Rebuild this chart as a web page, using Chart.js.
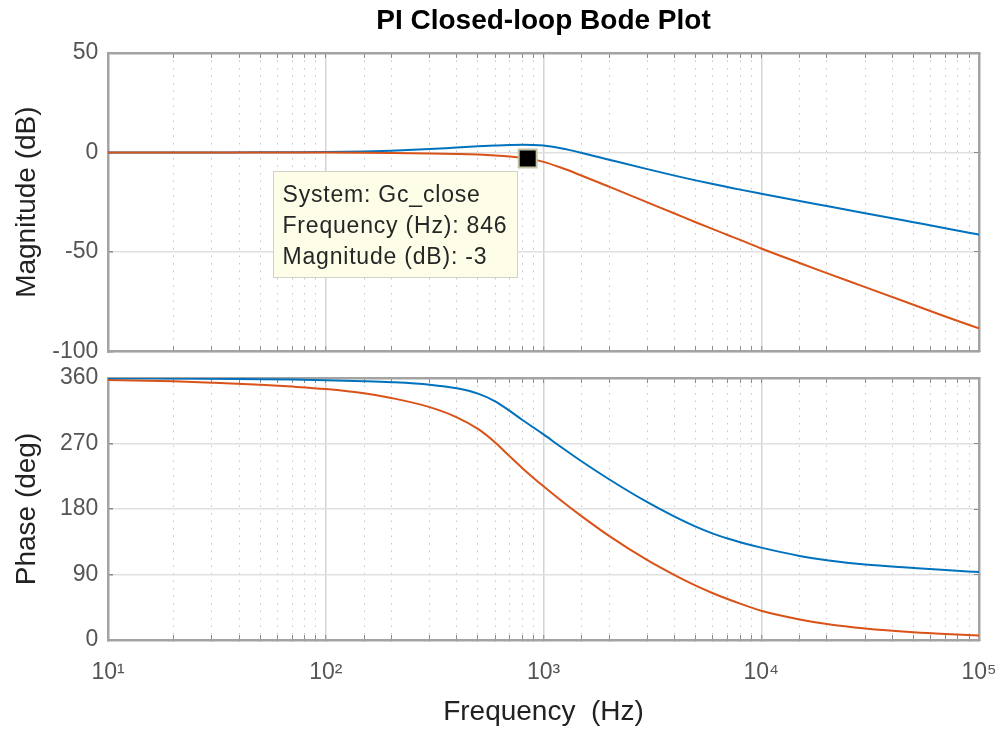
<!DOCTYPE html>
<html><head><meta charset="utf-8">
<script src="https://cdn.jsdelivr.net/npm/chart.js@4.4.1/dist/chart.umd.min.js"></script>
<style>
html,body{margin:0;padding:0;background:#fff;}
#wrap{position:relative;width:1002px;height:729px;overflow:hidden;background:#fff;}
canvas{position:absolute;left:0;}
#c1{top:0;} #c2{top:366px;}
</style></head><body>
<div id="wrap"><canvas id="c1" width="1002" height="366"></canvas><canvas id="c2" width="1002" height="363"></canvas></div>
<script>
// ---- data ----
const chartTitle = 'PI Closed-loop Bode Plot';
const freqHz = [10, 15, 20, 30, 50, 70, 100, 150, 200, 300, 400, 500, 600, 700, 800, 900, 1000, 1200, 1500, 2000, 3000, 4000, 5000, 6000, 7000, 8000, 10000, 15000, 20000, 30000, 50000, 70000, 100000];
const magBlue = [0, 0, 0.01, 0.02, 0.05, 0.1, 0.2, 0.5, 0.9, 1.7, 2.5, 3.05, 3.45, 3.75, 3.9, 3.8, 3.45, 2.05, -0.25, -3.65, -8.4, -11.65, -14.05, -15.9, -17.4, -18.7, -20.75, -24.4, -26.95, -30.55, -35.1, -38.1, -41.3];
const magOrange = [0, 0, 0, -0.01, -0.02, -0.04, -0.07, -0.15, -0.25, -0.5, -0.8, -1.1, -1.5, -2.0, -2.65, -3.55, -4.75, -7.6, -11.7, -17.2, -25.1, -30.7, -35.1, -38.6, -41.5, -44.0, -48.3, -55.6, -60.7, -67.7, -76.6, -82.5, -88.5];
const phaseBlue = [359.6, 359.5, 359.3, 359.0, 358.4, 357.8, 357.0, 355.7, 354.3, 350.8, 345.8, 338.5, 328.0, 314.8, 302.3, 292.0, 282.5, 265.5, 245.3, 220.9, 189.3, 169.4, 155.7, 146.2, 139.5, 134.4, 126.9, 115.5, 109.5, 103.6, 99.0, 96.1, 93.3];
const phaseOrange = [357.2, 356.3, 355.4, 353.6, 350.8, 348.2, 344.8, 339.0, 332.5, 320.0, 306.0, 290.0, 271.4, 252.3, 236.1, 222.7, 211.2, 192.0, 169.8, 143.0, 109.6, 89.1, 74.7, 64.3, 56.3, 50.0, 40.2, 28.3, 22.1, 15.9, 10.6, 8.1, 6.1];
const markerSystem = ['Gc_close'];
const markerFreq = [846];
const markerMag = [-3];
const xTickValues = [10, 100, 1000, 10000, 100000];
const xTickLabels = ['10\u00B9', '10\u00B2', '10\u00B3', '10\u2074', '10\u2075'];
const magRange = [-100, 50], magStep = 50;
const phaseRange = [0, 360], phaseStep = 90;

// ---- styling ----
const FONT = '"Liberation Sans", Arial, Helvetica, sans-serif';
Chart.defaults.font.family = FONT;
const BLUE = '#0072BD', ORANGE = '#D95319';
const TICKCOL = '#555555', LABCOL = '#222222';
const isDecade = v => Math.abs(Math.log10(v) - Math.round(Math.log10(v))) < 1e-7;
const pts = (xs, ys) => xs.map((x, i) => ({x, y: ys[i]}));
const dashFn = c => (c.tick && !isDecade(c.tick.value)) ? [1.5, 6] : [];
const xGrid = {
  color: c => (c.tick && isDecade(c.tick.value)) ? '#d4d4d4' : '#c4c4c4',
  lineWidth: c => (c.tick && isDecade(c.tick.value)) ? 1.5 : 1,
  borderDash: dashFn,
  drawTicks: true, tickLength: -5, tickColor: '#8a8a8a', tickWidth: 1
};
const BORDER = {display: true, color: '#a3a3a3', width: 2.5};
const xLabel = v => { const i = xTickValues.findIndex(t => Math.abs(t - v) < 1e-6 * t); return i >= 0 ? xTickLabels[i] : ''; };

function xAxis(bottomCfg) {
  return Object.assign({
    type: 'logarithmic', position: 'bottom', min: xTickValues[0], max: xTickValues[xTickValues.length - 1],
    grid: xGrid, border: Object.assign({}, BORDER, {dash: dashFn})
  }, bottomCfg);
}
function topAxis() {
  return {
    type: 'logarithmic', position: 'top', min: xTickValues[0], max: xTickValues[xTickValues.length - 1],
    ticks: {display: false, autoSkip: false},
    grid: {drawOnChartArea: false, drawTicks: true, tickLength: -5, tickColor: '#8a8a8a'},
    border: BORDER,
    afterFit: s => { s.height = 0; s.paddingLeft = 0; s.paddingRight = 0; }
  };
}
function yAxis(range, step, title) {
  return {
    type: 'linear', position: 'left', min: range[0], max: range[1],
    ticks: {stepSize: step, padding: 14.7, color: TICKCOL, font: {size: 23}, callback: v => String(v)},
    grid: {color: '#e0e0e0', lineWidth: 1.5, drawTicks: true, tickLength: -5, tickColor: '#8a8a8a'},
    border: BORDER,
    title: {display: true, text: title, color: LABCOL, font: {size: 28}, padding: {top: 10, bottom: 0}},
    afterFit: s => { s.width = 108; s.paddingTop = 0; s.paddingBottom = 0; }
  };
}
function rightAxis(range, step) {
  return {
    type: 'linear', position: 'right', min: range[0], max: range[1],
    ticks: {display: false, stepSize: step},
    grid: {drawOnChartArea: false, drawTicks: true, tickLength: -5, tickColor: '#8a8a8a'},
    border: BORDER,
    afterFit: s => { s.width = 0; s.paddingTop = 0; s.paddingBottom = 0; }
  };
}
const lineDs = (label, ys, color, order) => ({
  label, data: pts(freqHz, ys), borderColor: color, backgroundColor: color,
  borderWidth: 2, pointRadius: 0, fill: false, cubicInterpolationMode: 'monotone', order,
  xAxisID: 'x', yAxisID: 'y'
});

const datatipPlugin = {
  id: 'datatip',
  afterDatasetsDraw(chart) {
    const pt = chart.getDatasetMeta(0).data[0];
    if (!pt) return;
    const ctx = chart.ctx;
    const lines = ['System: ' + markerSystem[0], 'Frequency (Hz): ' + markerFreq[0], 'Magnitude (dB): ' + markerMag[0]];
    ctx.save();
    const bx = Math.round(pt.x - 255) + 0.5, by = Math.round(pt.y + 13) + 0.5, bw = 244, bh = 106;
    ctx.fillStyle = '#fdfde8';
    ctx.fillRect(bx, by, bw, bh);
    ctx.strokeStyle = '#d2d2c8'; ctx.lineWidth = 1;
    ctx.strokeRect(bx, by, bw, bh);
    ctx.fillStyle = '#262626';
    ctx.font = '23px ' + FONT;
    ctx.textBaseline = 'alphabetic'; ctx.textAlign = 'left';
    try { ctx.letterSpacing = '0.8px'; } catch (e) {}
    lines.forEach((t, i) => ctx.fillText(t, bx + 9, by + 30 + i * 31));
    ctx.restore();
  }
};

const common = {responsive: false, animation: false, devicePixelRatio: 1, events: []};

new Chart(document.getElementById('c1'), {
  type: 'line',
  data: {datasets: [
    {label: 'Data tip', data: pts(markerFreq, markerMag), showLine: false, pointStyle: 'rect', pointRadius: 12.7,
     pointBackgroundColor: '#000', pointBorderColor: '#c4c4a4', pointBorderWidth: 2, order: 0, xAxisID: 'x', yAxisID: 'y'},
    lineDs('Gc_close', magOrange, ORANGE, 1),
    lineDs('System 2', magBlue, BLUE, 2)
  ]},
  options: Object.assign({}, common, {
    layout: {padding: {left: 0, right: 23, top: 0, bottom: 14}},
    plugins: {legend: {display: false}, tooltip: {enabled: false},
      title: {display: true, text: chartTitle, fullSize: false, color: '#000', font: {size: 28, weight: 'bold'}, padding: {top: 4.7, bottom: 14.7}}},
    scales: {
      x: xAxis({ticks: {display: false, autoSkip: false}, afterFit: s => { s.height = 0; s.paddingLeft = 0; s.paddingRight = 0; }}),
      x2: topAxis(),
      y: yAxis(magRange, magStep, 'Magnitude (dB)'),
      y2: rightAxis(magRange, magStep)
    }
  }),
  plugins: [datatipPlugin]
});

new Chart(document.getElementById('c2'), {
  type: 'line',
  data: {datasets: [
    lineDs('Gc_close', phaseOrange, ORANGE, 1),
    lineDs('System 2', phaseBlue, BLUE, 0)
  ]},
  options: Object.assign({}, common, {
    layout: {padding: {left: 0, right: 23, top: 12, bottom: 0}},
    plugins: {legend: {display: false}, tooltip: {enabled: false}},
    scales: {
      x: xAxis({
        ticks: {autoSkip: false, maxRotation: 0, padding: 23.7, color: TICKCOL, font: {size: 23}, callback: xLabel},
        title: {display: true, text: 'Frequency  (Hz)', color: LABCOL, font: {size: 28}, padding: {top: 0, bottom: 0}},
        afterFit: s => { s.height = 89; s.paddingLeft = 0; s.paddingRight = 0; }
      }),
      x2: topAxis(),
      y: yAxis(phaseRange, phaseStep, 'Phase (deg)'),
      y2: rightAxis(phaseRange, phaseStep)
    }
  })
});
</script>
</body></html>
